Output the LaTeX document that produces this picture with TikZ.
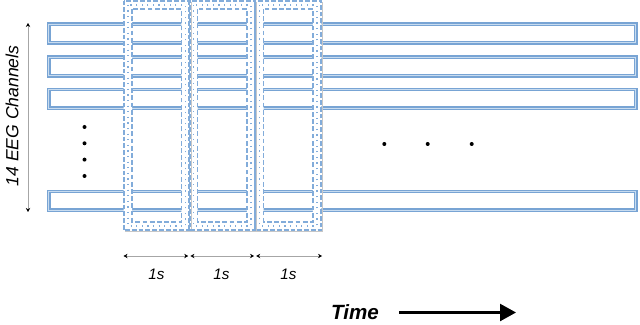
\documentclass[tikz,border=0pt]{standalone}
\usepackage{fontspec}
\setmainfont{Liberation Sans}
\usepackage{xcolor}
\usepackage{tikz}
\usetikzlibrary{positioning,arrows.meta}
\definecolor{chanblue}{RGB}{120,164,212}
\definecolor{chanlight}{RGB}{200,220,240}
\definecolor{winblue}{RGB}{130,172,218}
\tikzset{
  % --- EEG channel strips ----------------------------------------------------
  chan/.style={rectangle,draw=chanblue,double=chanlight,line width=0.7pt,
               double distance=0.35pt,minimum width=293.5pt,
               minimum height=9.3pt,inner sep=0pt},
  % --- 1 s windows (outer / middle / inner outline) ---------------------------
  winout/.style={rectangle,minimum width=32.75pt,minimum height=114.5pt,
                 inner sep=0pt},
  winmid/.style={rectangle,minimum width=28.5pt,minimum height=110.25pt,
                 inner sep=0pt},
  winin/.style={rectangle,minimum width=24.25pt,minimum height=106pt,
                inner sep=0pt},
  winedge/.style={winblue,line width=1pt,dash pattern=on 2.4pt off 1pt},
  wininner/.style={winblue,line width=0.7pt,dash pattern=on 2.4pt off 1.2pt},
  windot/.style={winblue,line width=0.7pt,dash pattern=on 0.6pt off 2.2pt},
  winshade/.style={black!22,line width=0.4pt},
  % --- spans and labels ------------------------------------------------------
  span/.style={{Stealth[length=2pt,width=2.2pt,black]}-{Stealth[length=2pt,width=2.2pt,black]},
               black!35,line width=0.5pt},
  timearrow/.style={-{Triangle[length=8pt,width=8.5pt]},black,line width=1.2pt},
  dot/.style={circle,fill=black,inner sep=0pt,minimum size=2pt},
  chanlab/.style={font=\fontsize{8.8}{10}\selectfont\itshape,text=black,
                  rotate=90,inner sep=0pt},
  dimlab/.style={font=\fontsize{7.6}{9}\selectfont\itshape,text=black,
                 inner sep=0pt},
  timelab/.style={font=\fontsize{10.3}{12}\selectfont\bfseries\itshape,
                  inner sep=0pt},
}

\begin{document}
\begin{tikzpicture}[x=0.5pt, y=-0.5pt]
  \useasboundingbox (0,0) rectangle (640,325);

  % channels
  \node[chan] (c1) at (342.3,33.5)  {};
  \node[chan] (c2) at (342.3,66.5)  {};
  \node[chan] (c3) at (342.3,98.9)  {};
  \node[chan] (c4) at (342.3,200.9) {};

  % windows
  \node[winout] (w1) at (156.75,115.5) {};
  \node[winout] (w2) at (222.25,115.5) {};
  \node[winout] (w3) at (288.25,115.5) {};
  \node[winmid] (w1m) at (w1) {}; \node[winin] (w1i) at (w1) {};
  \node[winmid] (w2m) at (w2) {}; \node[winin] (w2i) at (w2) {};
  \node[winmid] (w3m) at (w3) {}; \node[winin] (w3i) at (w3) {};

  \fill[white,even odd rule] (w1.north west) rectangle (w1.south east)
                             (w1i.north west) rectangle (w1i.south east);
  \fill[white,even odd rule] (w2.north west) rectangle (w2.south east)
                             (w2i.north west) rectangle (w2i.south east);
  \fill[white,even odd rule] (w3.north west) rectangle (w3.south east)
                             (w3i.north west) rectangle (w3i.south east);

  \draw[winshade] ([shift={(1.2,1.2)}]w1.north east) -- ([shift={(1.2,1.2)}]w1.south east)
                  -- ([shift={(1.2,1.2)}]w1.south west);
  \draw[winshade] ([shift={(1.2,1.2)}]w2.north east) -- ([shift={(1.2,1.2)}]w2.south east)
                  -- ([shift={(1.2,1.2)}]w2.south west);
  \draw[winshade] ([shift={(1.2,1.2)}]w3.north east) -- ([shift={(1.2,1.2)}]w3.south east)
                  -- ([shift={(1.2,1.2)}]w3.south west);

  \draw[winedge]  (w1.north west) rectangle (w1.south east);
  \draw[winedge]  (w2.north west) rectangle (w2.south east);
  \draw[winedge]  (w3.north west) rectangle (w3.south east);
  \draw[windot]   (w1m.north west) rectangle (w1m.south east);
  \draw[windot]   (w2m.north west) rectangle (w2m.south east);
  \draw[windot]   (w3m.north west) rectangle (w3m.south east);
  \draw[wininner] (w1i.north west) rectangle (w1i.south east);
  \draw[wininner] (w2i.north west) rectangle (w2i.south east);
  \draw[wininner] (w3i.north west) rectangle (w3i.south east);

  % channel axis
  \coordinate (ctop) at (28,23);
  \coordinate (cbot) at (28,212);
  \draw[span] (ctop) -- (cbot);
  \node[chanlab] (chn) at (12,116) {14 EEG Channels};

  % skipped channels / time
  \node[dot] (v1) at (84.5,127)   {};
  \node[dot] (v2) at (84.5,143.3) {};
  \node[dot] (v3) at (84.5,159.6) {};
  \node[dot] (v4) at (84.5,176)   {};
  \node[dot] (h1) at (384.3,144)  {};
  \node[dot] (h2) at (427.7,144)  {};
  \node[dot] (h3) at (471.7,144)  {};

  % window lengths
  \coordinate (d0) at (123.5,256);
  \coordinate (d1a) at (188.2,256); \coordinate (d1b) at (190.4,256);
  \coordinate (d2a) at (254.0,256); \coordinate (d2b) at (256.2,256);
  \coordinate (d3) at (322,256);
  \draw[span] (d0)  -- (d1a);
  \draw[span] (d1b) -- (d2a);
  \draw[span] (d2b) -- (d3);
  \node[dimlab] (s1) at (156.5,274) {1s};
  \node[dimlab] (s2) at (221.5,274) {1s};
  \node[dimlab] (s3) at (288.5,274) {1s};

  % time direction
  \node[timelab] (time) at (355,312.5) {Time};
  \coordinate (tstart) at (399,312.5);
  \coordinate (tend) at (516,312.5);
  \draw[timearrow] (tstart) -- (tend);
\end{tikzpicture}
\end{document}
